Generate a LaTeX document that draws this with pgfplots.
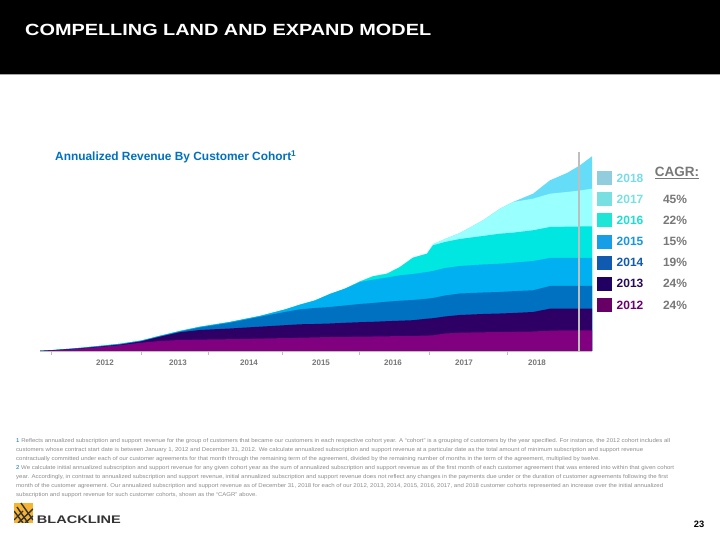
\documentclass[border=0pt]{standalone}
\usepackage{fontspec}
\setmainfont{Liberation Sans}
\usepackage{graphicx}
\usepackage{pgfplots}
\pgfplotsset{compat=1.18}
\usepackage{pgfplotstable}

\definecolor{c2012}{RGB}{128,0,128}
\definecolor{c2013}{RGB}{46,0,102}
\definecolor{c2014}{RGB}{0,112,192}
\definecolor{c2015}{RGB}{0,176,240}
\definecolor{c2016}{RGB}{0,230,224}
\definecolor{c2017}{RGB}{153,255,255}
\definecolor{c2018}{RGB}{102,221,248}
\definecolor{l2012}{RGB}{102,0,102}
\definecolor{l2013}{RGB}{32,0,96}
\definecolor{l2014}{RGB}{16,90,176}
\definecolor{l2015}{RGB}{22,158,230}
\definecolor{l2016}{RGB}{30,230,214}
\definecolor{l2017}{RGB}{120,224,224}
\definecolor{l2018}{RGB}{146,205,222}
\definecolor{t2018}{RGB}{120,220,232}
\definecolor{t2017}{RGB}{120,224,224}
\definecolor{t2016}{RGB}{30,222,210}
\definecolor{t2015}{RGB}{22,150,230}
\definecolor{t2014}{RGB}{16,90,176}
\definecolor{t2013}{RGB}{40,10,90}
\definecolor{t2012}{RGB}{110,0,110}
\definecolor{titleblue}{RGB}{0,112,192}
\definecolor{axgray}{RGB}{190,190,190}
\definecolor{txtgray}{RGB}{120,120,120}
\definecolor{notegray}{RGB}{140,140,140}
\definecolor{logoyellow}{RGB}{245,180,50}
\definecolor{logodark}{RGB}{51,51,51}

% cumulative tops of each cohort (height above baseline)
\pgfplotstableread{
x   t12  t13  t14  t15  t16   t17   t18
40  0    0    0    0    0     0     0
60  1.0  1.2  1.3  1.5  1.5   1.5   1.5
80  2.3  2.6  2.7  3.1  3.1   3.1   3.1
100 4.0  4.4  4.6  5.1  5.1   5.1   5.1
120 5.8  6.4  6.6  7.2  7.2   7.2   7.2
141 8.3  9.6  9.8  10.4 10.4  10.4  10.4
160 10.0 14.3 14.6 15.2 15.2  15.2  15.2
180 11.0 18.8 19.4 20.0 20.0  20.0  20.0
200 11.4 21.0 23.5 24.2 24.2  24.2  24.2
230 11.8 22.5 28.2 29.0 29.0  29.0  29.0
260 12.4 24.3 34.2 35.0 35.0  35.0  35.0
285 12.9 25.8 39.0 41.5 41.5  41.5  41.5
300 13.3 26.7 41.7 46.3 46.3  46.3  46.3
315 13.6 27.0 43.0 50.5 50.5  50.5  50.5
330 14.0 27.5 44.0 57.0 57.0  57.0  57.0
345 14.2 28.2 45.5 62.3 62.3  62.3  62.3
360 14.3 28.8 47.0 69.0 69.5  69.5  69.5
373 14.5 29.2 48.0 71.3 74.7  74.7  74.7
387 14.7 29.8 49.3 73.5 77.3  77.3  77.3
400 14.9 30.3 50.3 75.7 84.0  84.0  84.0
413 15.1 30.8 51.0 77.0 93.3  93.3  93.3
427 15.4 32.3 52.3 79.0 97.3  97.3  97.3
433 15.7 32.8 53.0 80.0 105.7 106.7 106.7
445 17.5 34.5 55.5 83.0 109.0 112.0 112.0
460 18.3 36.0 57.5 85.0 112.0 118.0 118.0
483 18.7 37.0 58.5 86.5 115.0 130.7 130.7
500 19.0 37.5 59.0 87.3 117.3 142.3 142.3
513 19.2 38.0 59.8 88.3 118.3 149.0 149.0
533 19.5 39.0 60.7 90.0 120.7 152.3 157.3
550 20.3 42.3 65.0 93.0 124.0 157.3 170.7
567 20.7 42.3 65.0 93.0 124.3 159.0 178.0
580 20.7 42.3 65.0 93.0 124.5 160.5 185.7
592 20.7 42.3 65.0 93.0 124.7 162.3 194.7
}\cohorts

\newcommand{\noteline}[3]{\node[anchor=base west, inner sep=0pt, text=notegray] at (16,{540-#1}) {\resizebox{#2pt}{\height}{\fontsize{5.5}{6}\selectfont #3}};}

\begin{document}
\begin{tikzpicture}[x=1pt,y=1pt]
\useasboundingbox (0,0) rectangle (720,540);
\fill[white] (0,0) rectangle (720,540);
% header
\fill[black] (0,466) rectangle (720,540);
\fill[gray!70] (0,465) rectangle (720,466.2);
\node[anchor=base west, inner sep=0pt, text=white] at (25,504) {\resizebox{406pt}{11.3pt}{\bfseries COMPELLING LAND AND EXPAND MODEL}};
% chart title
\node[anchor=base west, inner sep=0pt, text=titleblue] at (55,379.5) {\fontsize{11.9}{13}\selectfont\bfseries Annualized Revenue By Customer Cohort\textsuperscript{1}};

\begin{axis}[
  at={(40pt,189pt)}, anchor=south west,
  scale only axis, width=552pt, height=200pt,
  xmin=40, xmax=592, ymin=0, ymax=200,
  axis x line=bottom, axis y line=none,
  x axis line style={-, draw=axgray, line width=1.3pt},
  xtick={105,178,249,321,393,464,537},
  xticklabels={2012,2013,2014,2015,2016,2017,2018},
  major tick length=0pt,
  xticklabel style={font=\fontsize{8}{9}\selectfont\bfseries, text=txtgray, yshift=-5pt},
  extra x ticks={51,141.7,208,282,359,429,507},
  extra x tick labels={,,,,,,},
  extra x tick style={major tick length=4pt, xtick align=outside, tick style={draw=axgray, line width=1pt}},
  clip=false,
]
\addplot[fill=c2018, draw=none] table[x=x, y=t18] {\cohorts} \closedcycle;
\addplot[fill=c2017, draw=none] table[x=x, y=t17] {\cohorts} \closedcycle;
\addplot[fill=c2016, draw=none] table[x=x, y=t16] {\cohorts} \closedcycle;
\addplot[fill=c2015, draw=none] table[x=x, y=t15] {\cohorts} \closedcycle;
\addplot[fill=c2014, draw=none] table[x=x, y=t14] {\cohorts} \closedcycle;
\addplot[fill=c2013, draw=none] table[x=x, y=t13] {\cohorts} \closedcycle;
\addplot[fill=c2012, draw=none] table[x=x, y=t12] {\cohorts} \closedcycle;
\addplot[draw=axgray, line width=1.5pt] coordinates {(579,0) (579,199)};
\end{axis}

% legend
\foreach \yr/\i/\cg in {2018/0/,2017/1/45\%,2016/2/22\%,2015/3/15\%,2014/4/19\%,2013/5/24\%,2012/6/24\%}{
  \pgfmathsetmacro{\yy}{540-(178.3+21.1*\i)}
  \fill[l\yr] (597.3,\yy-7) rectangle (612.3,\yy+7);
  \node[anchor=west, inner sep=0pt, text=t\yr] at (616.5,\yy) {\fontsize{12}{13}\selectfont\bfseries \yr};
  \node[inner sep=0pt, text=txtgray] at (675,\yy) {\fontsize{12}{13}\selectfont\bfseries \cg};
}
\node[inner sep=0pt, text=txtgray] at (677,367) {\fontsize{13.5}{14}\selectfont\bfseries \underline{CAGR:}};

% footnotes
\noteline{443}{654}{\textcolor{titleblue}{1} Reflects annualized subscription and support revenue for the group of customers that became our customers in each respective cohort year. A “cohort” is a grouping of customers by the year specified. For instance, the 2012 cohort includes all}
\noteline{451.9}{627}{customers whose contract start date is between January 1, 2012 and December 31, 2012. We calculate annualized subscription and support revenue at a particular date as the total amount of minimum subscription and support revenue}
\noteline{460.8}{584}{contractually committed under each of our customer agreements for that month through the remaining term of the agreement, divided by the remaining number of months in the term of the agreement, multiplied by twelve.}
\noteline{469.7}{658}{\textcolor{titleblue}{2} We calculate initial annualized subscription and support revenue for any given cohort year as the sum of annualized subscription and support revenue as of the first month of each customer agreement that was entered into within that given cohort}
\noteline{478.6}{652}{year. Accordingly, in contrast to annualized subscription and support revenue, initial annualized subscription and support revenue does not reflect any changes in the payments due under or the duration of customer agreements following the first}
\noteline{487.5}{647}{month of the customer agreement. Our annualized subscription and support revenue as of December 31, 2018 for each of our 2012, 2013, 2014, 2015, 2016, 2017, and 2018 customer cohorts represented an increase over the initial annualized}
\noteline{496.4}{241}{subscription and support revenue for such customer cohorts, shown as the “CAGR” above.}

% logo
\fill[logoyellow] (14,17) rectangle (33,37);
\begin{scope}
\clip (14,17) rectangle (33,37);
\draw[logodark, line width=1.4pt] (14,29) -- (23,17);
\draw[logodark, line width=1.4pt] (17,33) -- (28,17);
\draw[logodark, line width=1.4pt] (21,37) -- (33,20);
\draw[logodark, line width=1.4pt] (14,20) -- (23,29);
\draw[logodark, line width=1.4pt] (18,17) -- (33,31);
\draw[logodark, line width=1.4pt] (25,17) -- (33,24);
\end{scope}
\node[anchor=base west, inner sep=0pt, text=logodark] at (36.7,16.7) {\resizebox{84pt}{7.7pt}{\bfseries BLACKLINE}};
% page number
\node[inner sep=0pt] at (699,16) {\fontsize{9.3}{10}\selectfont\bfseries 23};
\end{tikzpicture}
\end{document}
